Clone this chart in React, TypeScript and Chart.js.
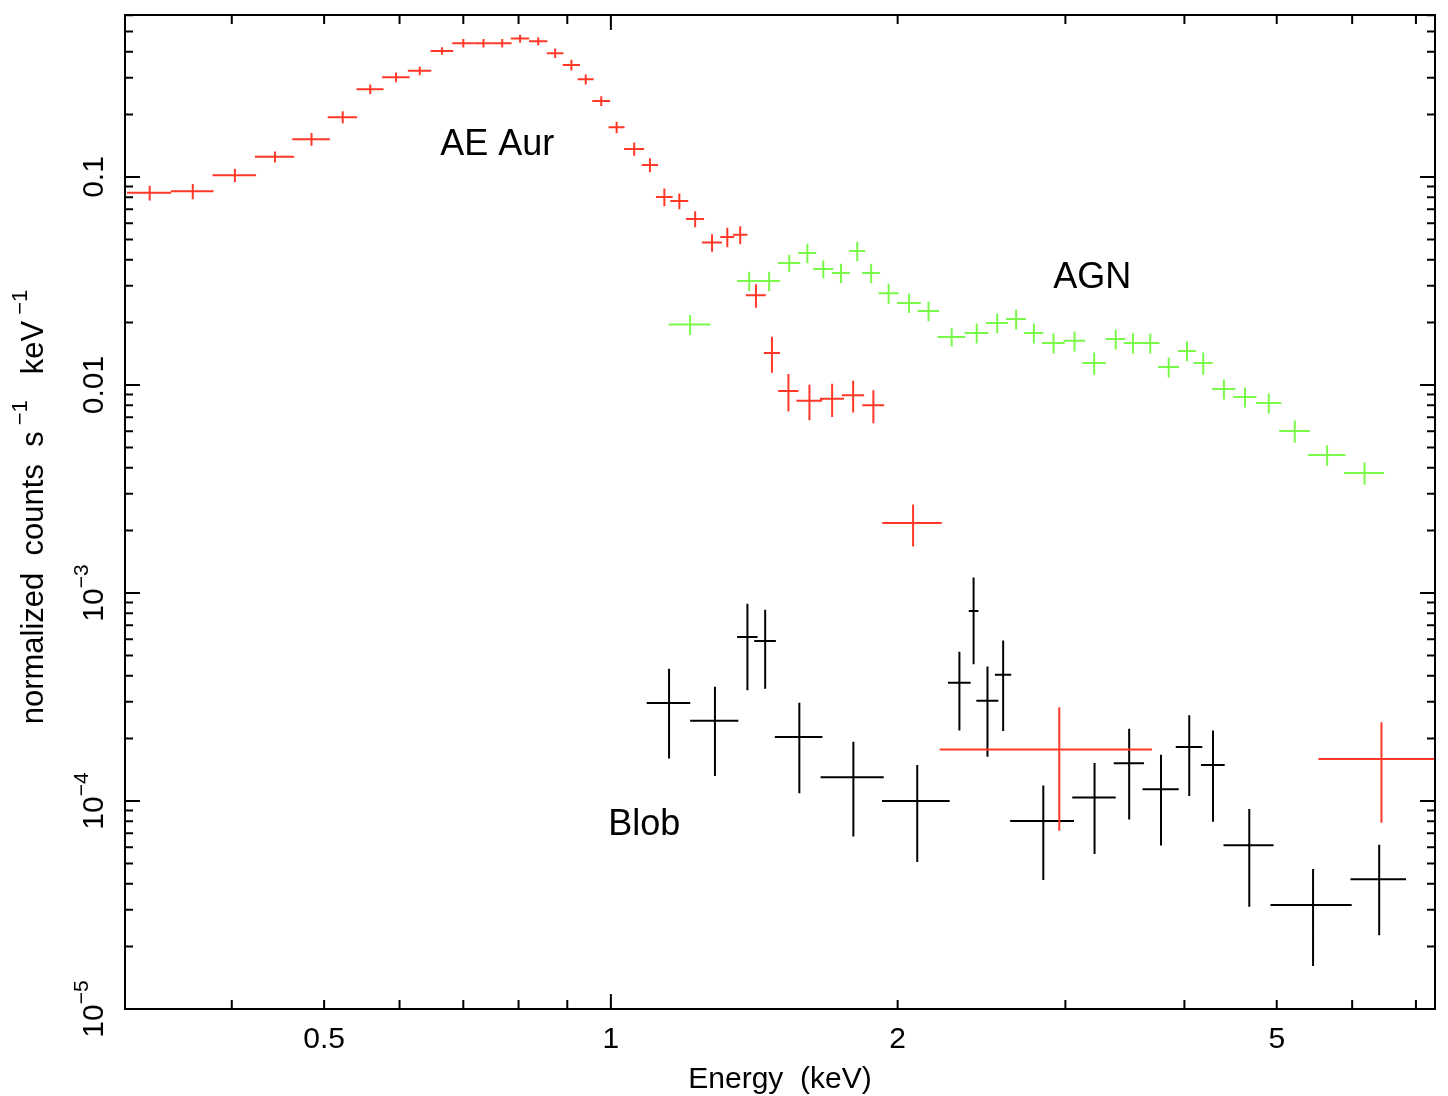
import React, { useEffect, useRef } from "react";
import Chart from "chart.js/auto";

// AE Aur (red)
const aeAurEnergy = [
  0.328, 0.364, 0.403, 0.444, 0.485, 0.523, 0.559, 0.595, 0.63, 0.665, 0.7, 0.735, 0.769,
  0.803, 0.839, 0.874, 0.909, 0.941, 0.977, 1.014, 1.058, 1.099, 1.138, 1.18, 1.226, 1.277,
  1.325, 1.367, 1.42, 1.476, 1.536, 1.616, 1.707, 1.796, 1.886, 2.076, 2.956, 6.44,
];
const aeAurEnergyErr = [
  0.0175, 0.0188, 0.0212, 0.021, 0.022, 0.0186, 0.0183, 0.0198, 0.0178, 0.0182, 0.0184, 0.0162,
  0.0176, 0.0178, 0.0185, 0.0175, 0.019, 0.0182, 0.021, 0.0196, 0.0256, 0.0217, 0.0229, 0.0257,
  0.0267, 0.031, 0.0224, 0.0238, 0.0344, 0.0286, 0.0377, 0.0502, 0.0495, 0.0484, 0.05, 0.149,
  0.742, 0.91,
];
const aeAurRate = [
  0.0839, 0.0854, 0.102, 0.125, 0.152, 0.194, 0.264, 0.302, 0.324, 0.404, 0.44, 0.44, 0.44,
  0.463, 0.45, 0.394, 0.346, 0.295, 0.232, 0.1735, 0.1365, 0.1143, 0.0802, 0.0767, 0.0629,
  0.0484, 0.0515, 0.0527, 0.027, 0.01426, 0.00937, 0.00839, 0.00858, 0.00893, 0.00799, 0.00217,
  0.000177, 0.000159,
];
const aeAurRateErr = [
  0.0068, 0.0072, 0.0076, 0.0077, 0.0106, 0.0128, 0.0142, 0.0162, 0.0153, 0.0171, 0.0211, 0.021,
  0.021, 0.0206, 0.02, 0.0205, 0.0205, 0.0164, 0.0128, 0.0111, 0.0101, 0.0089, 0.0079, 0.0067,
  0.0056, 0.0047, 0.0055, 0.0052, 0.0035, 0.0028, 0.00192, 0.00163, 0.00157, 0.00156, 0.00144,
  0.000497, 0.000105, 0.0000803,
];

// AGN (green)
const agnEnergy = [
  1.211, 1.397, 1.466, 1.539, 1.608, 1.671, 1.744, 1.814, 1.876, 1.957, 2.056, 2.155, 2.279,
  2.421, 2.544, 2.663, 2.78, 2.915, 3.067, 3.216, 3.388, 3.532, 3.683, 3.851, 4.025, 4.186,
  4.401, 4.631, 4.905, 5.223, 5.648, 6.182,
];
const agnEnergyErr = [
  0.0609, 0.0404, 0.0385, 0.0415, 0.035, 0.0405, 0.0378, 0.0351, 0.0409, 0.047, 0.0593, 0.0563,
  0.0763, 0.0698, 0.0679, 0.0644, 0.0642, 0.08, 0.0805, 0.0913, 0.08, 0.0765, 0.0822, 0.0986,
  0.0872, 0.096, 0.124, 0.13, 0.15, 0.1925, 0.255, 0.299,
];
const agnRate = [
  0.01954, 0.03166, 0.03166, 0.03864, 0.04316, 0.03615, 0.03458, 0.04412, 0.03458, 0.02762,
  0.02482, 0.02271, 0.01703, 0.0178, 0.01989, 0.02079, 0.0178, 0.01594, 0.0163, 0.01277,
  0.01665, 0.01594, 0.01594, 0.01222, 0.01459, 0.01277, 0.009577, 0.008766, 0.0082, 0.006016,
  0.004612, 0.003778,
];
const agnRateErr = [
  0.00215, 0.00336, 0.0034, 0.0037, 0.00465, 0.00354, 0.0037, 0.00475, 0.0037, 0.00303, 0.00263,
  0.00246, 0.0017, 0.00195, 0.00218, 0.00228, 0.00195, 0.00175, 0.00179, 0.00156, 0.00183,
  0.00175, 0.00175, 0.00134, 0.0016, 0.00156, 0.00105, 0.00096, 0.0009, 0.000735, 0.000517,
  0.00046,
];

// Blob (black)
const blobEnergy = [
  1.151, 1.286, 1.391, 1.452, 1.577, 1.797, 2.097, 2.322, 2.403, 2.485, 2.581, 2.844, 3.219,
  3.5, 3.78, 4.047, 4.286, 4.679, 5.459, 6.405,
];
const blobEnergyErr = [
  0.0605, 0.0748, 0.0344, 0.038, 0.0906, 0.137, 0.171, 0.0636, 0.028, 0.066, 0.0508, 0.219,
  0.169, 0.128, 0.165, 0.13, 0.123, 0.283, 0.534, 0.43,
];
const blobRate = [
  2.96e-4, 2.43e-4, 6.15e-4, 5.88e-4, 2.03e-4, 1.3e-4, 1.0e-4, 3.7e-4, 8.2e-4, 3.03e-4, 4.04e-4,
  8.02e-5, 1.04e-4, 1.52e-4, 1.14e-4, 1.82e-4, 1.49e-4, 6.13e-5, 3.16e-5, 4.21e-5,
];
const blobRateErr = [
  1.36e-4, 1.11e-4, 2.74e-4, 2.42e-4, 9.4e-5, 6.25e-5, 4.91e-5, 1.52e-4, 3.66e-4, 1.4e-4,
  1.87e-4, 3.85e-5, 4.84e-5, 7.05e-5, 5.29e-5, 7.63e-5, 6.95e-5, 3.03e-5, 1.55e-5, 1.95e-5,
];

// axes
const xRange = [0.309, 7.33];
const yRange = [1e-5, 0.601];
const xMinorTicks = [0.4, 0.5, 0.6, 0.7, 0.8, 0.9, 2, 3, 4, 5, 6, 7];
const xMajorTicks = [1];
const xLabelValues = [0.5, 1, 2, 5];
const xLabelText = ["0.5", "1", "2", "5"];
const yDecades = [1e-5, 1e-4, 1e-3, 0.01, 0.1];
const yMinorSteps = [2, 3, 4, 5, 6, 7, 8, 9];
const yLabelBase = ["10", "10", "10", "0.01", "0.1"];
const yLabelExp = ["\u22125", "\u22124", "\u22123", "", ""];

// labels written on the plot
const noteText = ["AE Aur", "AGN", "Blob"];
const noteEnergy = [0.662, 2.913, 0.9935];
const noteRate = [0.1273, 0.0294, 6.83e-5];

const FONT = '"Liberation Sans", Arial, sans-serif';

type Part = { t: string; sup?: boolean };

function drawRich(
  ctx: CanvasRenderingContext2D,
  parts: Part[],
  x: number,
  y: number,
  size: number,
  supSize: number,
  rise: number
) {
  const widths = parts.map((p) => {
    ctx.font = `${p.sup ? supSize : size}px ${FONT}`;
    return ctx.measureText(p.t).width;
  });
  const total = widths.reduce((a, b) => a + b, 0);
  let cx = x - total / 2;
  ctx.textAlign = "left";
  ctx.textBaseline = "alphabetic";
  parts.forEach((p, i) => {
    ctx.font = `${p.sup ? supSize : size}px ${FONT}`;
    ctx.fillText(p.t, cx, p.sup ? y - rise : y);
    cx += widths[i];
  });
}

// error-bar crosses as broken line segments
function crosses(e: number[], de: number[], r: number[], dr: number[]) {
  const pts: { x: number; y: number | null }[] = [];
  for (let i = 0; i < e.length; i++) {
    pts.push({ x: e[i] - de[i], y: r[i] }, { x: e[i] + de[i], y: r[i] }, { x: e[i], y: null });
    pts.push({ x: e[i], y: r[i] - dr[i] }, { x: e[i], y: r[i] + dr[i] }, { x: e[i], y: null });
  }
  return pts;
}

const frame = {
  id: "xspecFrame",
  afterDatasetsDraw(chart: any) {
    const { ctx, chartArea: a } = chart;
    const xs = chart.scales.x;
    const ys = chart.scales.y;
    ctx.save();
    ctx.strokeStyle = "#000";
    ctx.lineWidth = 2;
    ctx.strokeRect(a.left, a.top, a.right - a.left, a.bottom - a.top);

    ctx.beginPath();
    const xt = (v: number, len: number) => {
      const px = xs.getPixelForValue(v);
      ctx.moveTo(px, a.bottom);
      ctx.lineTo(px, a.bottom - len);
      ctx.moveTo(px, a.top);
      ctx.lineTo(px, a.top + len);
    };
    xMinorTicks.forEach((v) => xt(v, 9));
    xMajorTicks.forEach((v) => xt(v, 15));
    const yt = (v: number, len: number) => {
      if (v > ys.max) return;
      const py = ys.getPixelForValue(v);
      ctx.moveTo(a.left, py);
      ctx.lineTo(a.left + len, py);
      ctx.moveTo(a.right, py);
      ctx.lineTo(a.right - len, py);
    };
    yDecades.forEach((d) => {
      yt(d, 15);
      yMinorSteps.forEach((m) => yt(d * m, 8));
    });
    ctx.stroke();

    ctx.fillStyle = "#000";
    xLabelValues.forEach((v, i) => {
      drawRich(ctx, [{ t: xLabelText[i] }], xs.getPixelForValue(v), a.bottom + 39, 30, 20, 0);
    });
    drawRich(ctx, [{ t: "Energy  (keV)" }], (a.left + a.right) / 2, a.bottom + 79, 30, 20, 0);

    yDecades.forEach((v, i) => {
      ctx.save();
      ctx.translate(a.left - 22, ys.getPixelForValue(v));
      ctx.rotate(-Math.PI / 2);
      const parts: Part[] = [{ t: yLabelBase[i] }];
      if (yLabelExp[i]) parts.push({ t: yLabelExp[i], sup: true });
      drawRich(ctx, parts, 0, 0, 30, 21, 15);
      ctx.restore();
    });

    ctx.save();
    ctx.translate(43, (a.top + a.bottom) / 2 - 5);
    ctx.rotate(-Math.PI / 2);
    drawRich(
      ctx,
      [
        { t: "normalized  counts  s" },
        { t: " \u22121", sup: true },
        { t: "   keV" },
        { t: " \u22121", sup: true },
      ],
      0,
      0,
      31,
      22,
      16
    );
    ctx.restore();

    ctx.font = `36px ${FONT}`;
    ctx.textAlign = "left";
    ctx.textBaseline = "alphabetic";
    noteText.forEach((t, i) => {
      ctx.fillText(t, xs.getPixelForValue(noteEnergy[i]), ys.getPixelForValue(noteRate[i]));
    });
    ctx.restore();
  },
};

const App: React.FC = () => {
  const chartRef = useRef<HTMLCanvasElement>(null);
  const chartInstance = useRef<Chart>();

  useEffect(() => {
    if (!chartRef.current) return;
    const ctx = chartRef.current.getContext("2d");
    if (!ctx) return;

    const series = (data: any[], color: string) => ({
      data,
      showLine: true,
      borderColor: color,
      borderWidth: 2,
      pointRadius: 0,
      pointHoverRadius: 0,
      tension: 0,
      spanGaps: false,
      clip: 0,
    });

    // keep the exact axis limits (log scale otherwise snaps them to ticks)
    const pin = (range: number[]) => (s: any) => {
      s.min = range[0];
      s.max = range[1];
    };

    chartInstance.current = new Chart(ctx, {
      type: "scatter",
      data: {
        datasets: [
          series(crosses(agnEnergy, agnEnergyErr, agnRate, agnRateErr), "rgb(122, 250, 72)"),
          series(crosses(aeAurEnergy, aeAurEnergyErr, aeAurRate, aeAurRateErr), "rgb(255, 56, 40)"),
          series(crosses(blobEnergy, blobEnergyErr, blobRate, blobRateErr), "#000000"),
        ],
      },
      options: {
        animation: false,
        responsive: false,
        events: [],
        layout: { padding: { top: 15, right: 13, left: 0, bottom: 0 } },
        plugins: { legend: { display: false }, tooltip: { enabled: false } },
        scales: {
          x: {
            type: "logarithmic",
            bounds: "data",
            min: xRange[0],
            max: xRange[1],
            grid: { display: false },
            border: { display: false },
            ticks: { display: false },
            afterBuildTicks: pin(xRange),
            afterFit: (s: any) => {
              s.height = 87;
            },
          },
          y: {
            type: "logarithmic",
            bounds: "data",
            min: yRange[0],
            max: yRange[1],
            grid: { display: false },
            border: { display: false },
            ticks: { display: false },
            afterBuildTicks: pin(yRange),
            afterFit: (s: any) => {
              s.width = 125;
            },
          },
        },
      },
      plugins: [frame],
    });

    return () => {
      if (chartInstance.current) {
        chartInstance.current.destroy();
      }
    };
  }, []);

  return (
    <div style={{ position: "absolute", left: 0, top: 0, width: 1448, height: 1096, background: "#fff" }}>
      <canvas ref={chartRef} width={1448} height={1096} />
    </div>
  );
};

export default App;
